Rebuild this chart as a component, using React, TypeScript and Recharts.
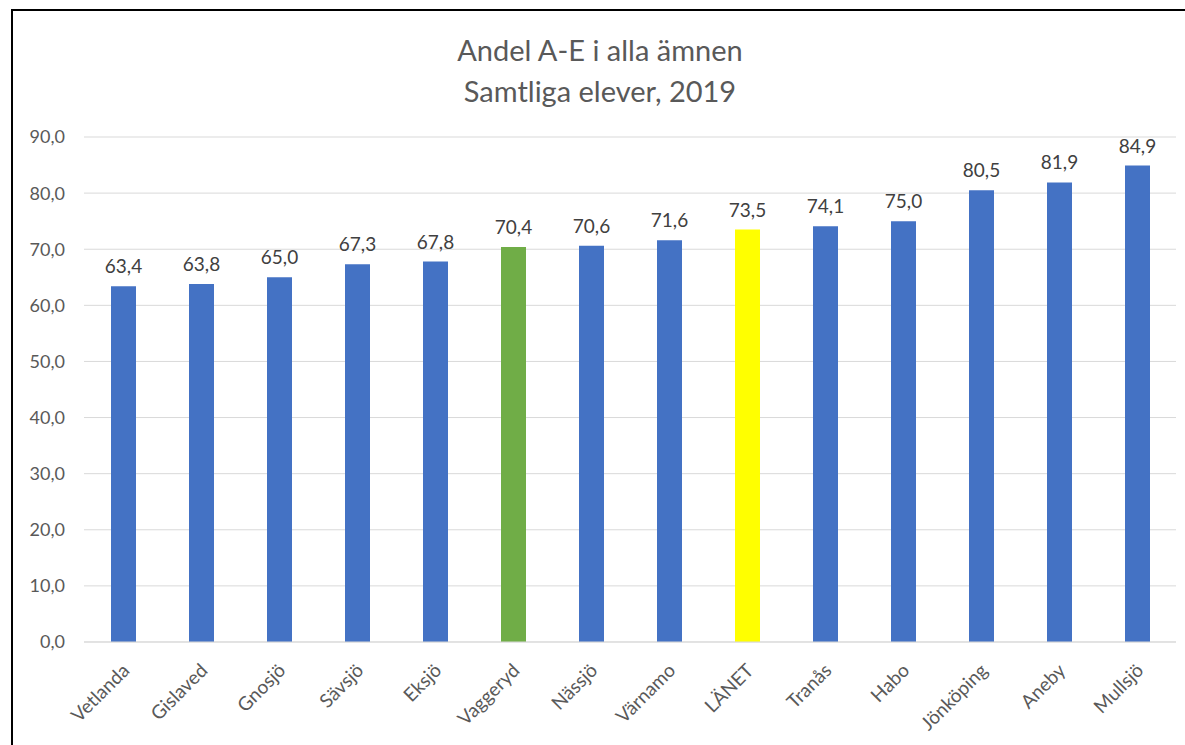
import { Bar, BarChart, CartesianGrid, Cell, LabelList, XAxis, YAxis } from 'recharts';

const municipalities = [
  'Vetlanda', 'Gislaved', 'Gnosjö', 'Sävsjö', 'Eksjö', 'Vaggeryd', 'Nässjö',
  'Värnamo', 'LÄNET', 'Tranås', 'Habo', 'Jönköping', 'Aneby', 'Mullsjö',
];
const shareAE = [63.4, 63.8, 65.0, 67.3, 67.8, 70.4, 70.6, 71.6, 73.5, 74.1, 75.0, 80.5, 81.9, 84.9];
const yTicks = [0, 10, 20, 30, 40, 50, 60, 70, 80, 90];

const titleLines = ['Andel A-E i alla ämnen', 'Samtliga elever, 2019'];

const blue = '#4472C4';
const highlight: Record<string, string> = { Vaggeryd: '#70AD47', 'LÄNET': '#FFFF00' };
const textColor = '#595959';
const font = 'Lato, "Open Sans", sans-serif';

const chartData = municipalities.map((name, i) => ({ name, value: shareAE[i] }));

const fmt = (v: number) => v.toFixed(1).replace('.', ',');

function AngledTick(props: any) {
  const { x, y, payload } = props;
  return (
    <g transform={`translate(${x + 3},${y + 17})`}>
      <text
        textAnchor="end"
        dy="0.35em"
        transform="rotate(-45)"
        fill={textColor}
        fontSize={19}
        fontFamily={font}
      >
        {payload.value}
      </text>
    </g>
  );
}

export default function App() {
  return (
    <div style={{ position: 'fixed', left: 0, top: 0, width: 1185, height: 745, background: '#fff' }}>
      <div
        style={{
          position: 'absolute',
          left: 11,
          top: 9,
          width: 1200,
          height: 800,
          borderLeft: '2px solid #000',
          borderTop: '2px solid #000',
        }}
      />
      <div
        style={{
          position: 'absolute',
          left: 0,
          top: 29,
          width: 1200,
          textAlign: 'center',
          fontFamily: font,
          fontSize: 29,
          lineHeight: '41px',
          color: textColor,
        }}
      >
        {titleLines.map((l) => (
          <div key={l}>{l}</div>
        ))}
      </div>
      <div style={{ position: 'absolute', left: 0, top: 0 }}>
        <BarChart
          width={1185}
          height={745}
          data={chartData}
          margin={{ top: 137, right: 9, bottom: 0, left: 0 }}
        >
          <CartesianGrid vertical={false} stroke="#D9D9D9" />
          <XAxis
            dataKey="name"
            interval={0}
            height={103}
            tickLine={false}
            axisLine={{ stroke: '#D9D9D9' }}
            tick={<AngledTick />}
          />
          <YAxis
            width={84}
            domain={[0, 90]}
            ticks={yTicks}
            axisLine={false}
            tickLine={false}
            tickSize={0}
            tickMargin={19}
            tickFormatter={fmt}
            tick={{ fill: textColor, fontSize: 18, fontFamily: font }}
          />
          <Bar dataKey="value" barSize={25} isAnimationActive={false}>
            {chartData.map((d) => (
              <Cell key={d.name} fill={highlight[d.name] ?? blue} />
            ))}
            <LabelList
              dataKey="value"
              position="top"
              offset={13}
              formatter={(v: any) => fmt(Number(v))}
              fill="#404040"
              fontSize={19}
              fontFamily={font}
            />
          </Bar>
        </BarChart>
      </div>
    </div>
  );
}
